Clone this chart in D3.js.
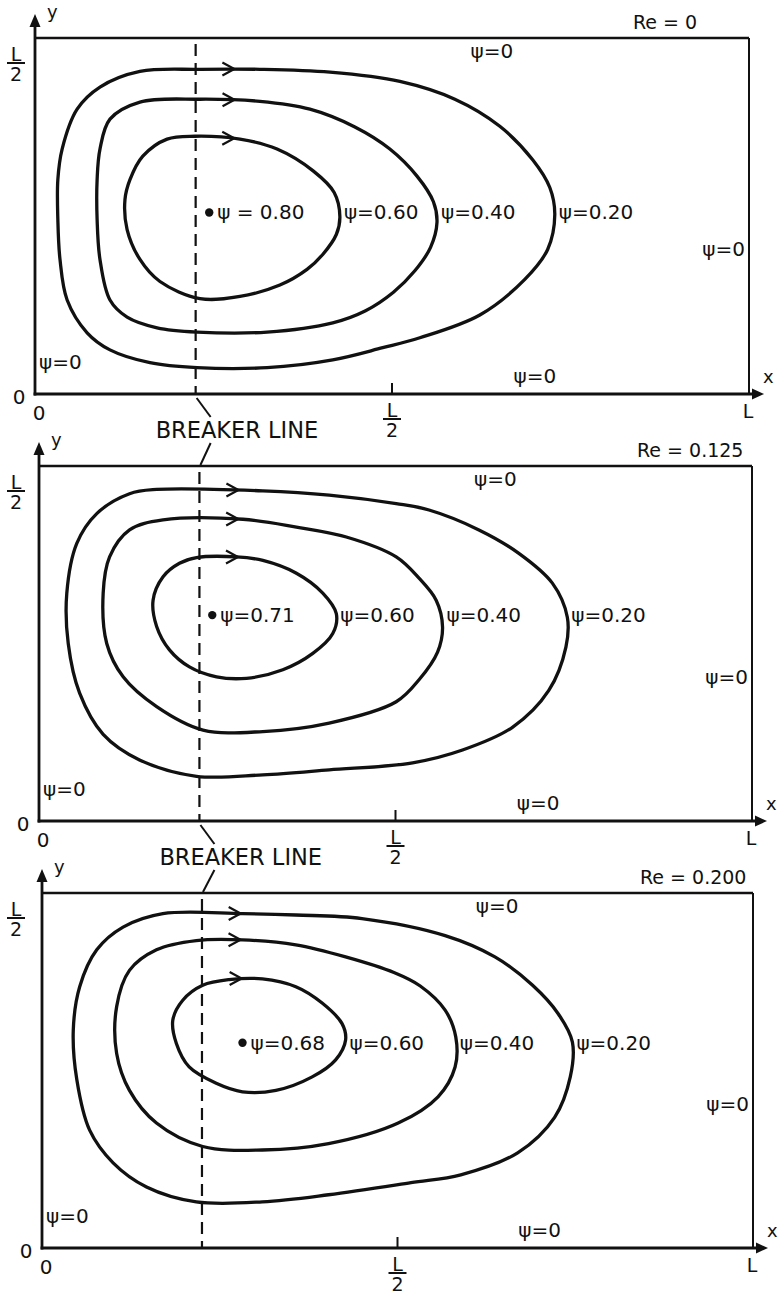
<!DOCTYPE html>
<html>
<head>
<meta charset="utf-8">
<title>Streamlines for three Reynolds numbers</title>
<script src="https://d3js.org/d3.v7.min.js"></script>
<style>
body {margin: 0; background: #fff;}
svg text {font-family: "DejaVu Sans", sans-serif; fill: #111;}
</style>
</head>
<body>
<svg id="chart" width="781" height="1299"></svg>
<script>
// every point is [x, y] in hundredths of L : x from 0 to 100, y from 0 to 50 (= L/2)
var reLabels = ["Re = 0", "Re = 0.125", "Re = 0.200"];
var contourLabels = ["\u03c8=0.20", "\u03c8=0.40", "\u03c8=0.60"];
var centerLabels = ["\u03c8 = 0.80", "\u03c8=0.71", "\u03c8=0.68"];
var boundaryLabel = "\u03c8=0";
var breakerX = 22.5;
var arrowX = 28;

var re0Center = [24.4, 25.5];
var re0Psi20 = [[3.2,24.5],[3.2,30.1],[3.8,34.4],[5.9,40.0],[9.1,43.1],[14.7,45.3],[23.1,45.6],[31.5,45.6],[41.3,45.2],[51.1,43.9],[58.8,41.4],[65.1,37.6],[69.7,32.9],[72.1,29.0],[72.8,25.2],[71.8,20.3],[68.6,16.1],[62.3,11.1],[53.9,7.9],[48.7,6.5],[41.7,4.8],[32.5,3.7],[22.7,3.7],[16.1,4.4],[10.5,6.2],[7.3,8.6],[4.5,13.2],[3.5,18.9]];
var re0Psi40 = [[8.7,24.5],[8.7,30.1],[9.1,34.4],[10.5,38.6],[14.7,41.0],[23.1,41.4],[31.5,41.1],[38.5,40.0],[44.8,37.5],[49.7,34.4],[53.5,30.6],[55.8,27.0],[56.3,24.1],[55.4,20.6],[53.2,17.3],[50.2,14.3],[46.3,11.7],[41.7,10.0],[32.5,8.7],[22.7,8.7],[17.1,9.3],[12.9,10.8],[10.5,13.2],[9.1,18.9]];
var re0Psi60 = [[12.6,27.3],[12.9,23.1],[14.7,18.9],[17.5,15.8],[23.1,13.4],[28.7,13.7],[34.3,15.3],[38.1,17.5],[40.3,19.6],[42.2,22.4],[42.7,24.9],[41.9,28.3],[39.0,31.3],[33.9,34.4],[28.7,35.8],[22.4,36.2],[18.5,35.8],[15.1,33.4],[13.3,30.1]];

var re125Center = [24.3, 29.0];
var re125Psi20 = [[3.9,32.1],[4.1,25.0],[5.7,18.0],[9.0,12.2],[14.1,8.6],[22.1,6.3],[31.4,6.5],[40.7,7.2],[52.4,8.2],[59.4,10.0],[66.4,13.2],[71.5,18.4],[73.9,24.5],[74.1,28.7],[72.0,33.5],[67.3,37.7],[61.7,41.0],[54.7,43.8],[50.1,44.7],[40.7,45.9],[31.4,46.5],[16.5,46.7],[12.7,46.1],[8.1,43.3],[5.3,39.1]];
var re125Psi40 = [[9.0,32.1],[9.9,37.2],[12.7,41.0],[17.4,42.4],[28.6,42.5],[36.1,41.4],[43.1,40.0],[50.1,37.2],[53.3,34.2],[55.7,31.1],[56.6,27.3],[55.9,23.8],[53.3,19.9],[50.1,16.8],[40.7,13.8],[31.4,12.6],[23.0,12.8],[16.5,16.1],[11.8,20.3],[9.5,25.0]];
var re125Psi60 = [[22.1,37.1],[27.7,37.2],[31.4,36.7],[36.1,34.9],[39.8,32.1],[41.7,29.2],[41.2,26.4],[38.4,23.6],[34.2,21.3],[29.1,20.1],[24.9,20.3],[21.1,21.7],[18.3,24.1],[16.5,27.4],[16.0,31.1],[17.4,34.4],[19.7,36.3]];

var re200Center = [28.2, 28.9];
var re200Psi20 = [[4.4,30.7],[4.9,23.7],[6.7,16.6],[10.0,12.0],[14.7,8.6],[21.7,6.5],[31.0,6.5],[40.3,7.5],[51.9,9.2],[58.9,10.3],[66.9,13.4],[72.1,18.4],[74.3,24.1],[74.6,29.0],[72.6,33.0],[69.0,37.0],[63.7,41.0],[56.7,44.0],[45.0,46.4],[35.7,46.9],[28.2,47.1],[17.0,47.1],[11.4,45.2],[7.7,42.0],[5.3,36.8]];
var re200Psi40 = [[10.5,34.0],[10.5,27.4],[12.3,22.2],[16.1,17.6],[22.6,14.3],[31.0,13.8],[40.3,14.7],[50.1,17.6],[55.7,21.3],[58.1,25.5],[58.2,29.7],[56.7,33.5],[53.2,36.9],[49.5,38.8],[42.7,41.0],[35.7,42.7],[28.2,43.4],[21.7,43.3],[16.1,42.0],[12.3,39.1]];
var re200Psi60 = [[26.3,37.8],[31.0,37.9],[35.7,36.8],[39.4,34.5],[42.2,31.6],[42.7,29.3],[41.3,26.5],[38.0,24.1],[32.9,22.2],[28.2,22.0],[24.5,23.2],[20.7,25.5],[18.9,28.8],[18.4,32.1],[19.8,34.9],[22.6,37.0]];

var panelContours = [[re0Psi20, re0Psi40, re0Psi60], [re125Psi20, re125Psi40, re125Psi60], [re200Psi20, re200Psi40, re200Psi60]];
var panelCenters = [re0Center, re125Center, re200Center];

// page layout of the three frames
var layout = [{x0: 35, top: 38, bottom: 394, w: 714}, {x0: 39, top: 466, bottom: 821, w: 713}, {x0: 42, top: 893, bottom: 1248, w: 711}];

var svg = d3.select("#chart");
var ink = "#111";
var line = d3.line().curve(d3.curveCatmullRomClosed.alpha(0.5));

function topPointAt(node, px) {
    var len = node.getTotalLength(), best = null;
    for (var s = 0; s < len; s += 0.5) {
        var p = node.getPointAtLength(s);
        if (Math.abs(p.x - px) < 0.7 && (best == null || p.y < best.y)) best = p;
    }
    return best;
}

function drawPanel(i) {
    var lay = layout[i];
    var g = svg.append("g");
    var x = d3.scaleLinear([0, 100], [lay.x0, lay.x0 + lay.w]);
    var y = d3.scaleLinear([0, 50], [lay.bottom, lay.top]);
    line.x(d => x(d[0])).y(d => y(d[1]));

    // frame: top and right sides
    g.append("line").attr("x1", x(0)).attr("x2", x(100)).attr("y1", y(50)).attr("y2", y(50))
        .attr("stroke", ink).attr("stroke-width", 2.6);
    g.append("line").attr("x1", x(100)).attr("x2", x(100)).attr("y1", y(50)).attr("y2", y(0))
        .attr("stroke", ink).attr("stroke-width", 2);

    // axes with arrows
    g.append("line").attr("x1", x(0)).attr("x2", x(0)).attr("y1", y(0) + 1.5).attr("y2", y(50) - 14)
        .attr("stroke", ink).attr("stroke-width", 2.8);
    g.append("path").attr("d", d3.line()([[x(0), y(50) - 24], [x(0) - 5.5, y(50) - 11], [x(0) + 5.5, y(50) - 11]]) + "Z")
        .attr("fill", ink);
    g.append("line").attr("x1", x(0) - 1.4).attr("x2", x(100) + 6).attr("y1", y(0)).attr("y2", y(0))
        .attr("stroke", ink).attr("stroke-width", 3);
    g.append("path").attr("d", d3.line()([[x(100) + 15, y(0)], [x(100) + 3, y(0) - 5.5], [x(100) + 3, y(0) + 5.5]]) + "Z")
        .attr("fill", ink);
    g.append("line").attr("x1", x(50)).attr("x2", x(50)).attr("y1", y(0)).attr("y2", y(0) - 11)
        .attr("stroke", ink).attr("stroke-width", 2);

    // axis labels
    g.append("text").attr("x", x(0) + 12).attr("y", y(50) - 20).attr("font-size", 18).text("y");
    g.append("text").attr("x", x(100) + 14).attr("y", y(0) - 11).attr("font-size", 18).text("x");
    g.append("text").attr("x", x(0) - 16).attr("y", y(0) + 3).attr("dy", "0.35em").attr("text-anchor", "middle").attr("font-size", 20).text("0");
    g.append("text").attr("x", x(0) + 4).attr("y", y(0) + 19).attr("dy", "0.35em").attr("text-anchor", "middle").attr("font-size", 20).text("0");
    g.append("text").attr("x", x(100) - 1).attr("y", y(0) + 17).attr("dy", "0.35em").attr("text-anchor", "middle").attr("font-size", 19).text("L");
    fraction(g, x(50), y(0) + 16);
    fraction(g, 16, y(50) + 16);

    // Reynolds number
    g.append("text").attr("x", x(0) + 598).attr("y", y(50) - 9).attr("font-size", 19).text(reLabels[i]);

    // breaker line
    g.append("line").attr("x1", x(breakerX)).attr("x2", x(breakerX)).attr("y1", y(50) + 6).attr("y2", y(0))
        .attr("stroke", ink).attr("stroke-width", 2.2).attr("stroke-dasharray", "12,7");

    // streamlines
    panelContours[i].forEach(function (pts, k) {
        var path = g.append("path").attr("d", line(pts)).attr("fill", "none")
            .attr("stroke", ink).attr("stroke-width", 3.3).attr("stroke-linejoin", "round");
        var p = topPointAt(path.node(), x(arrowX));
        if (p) {
            g.append("path").attr("d", d3.line()([[p.x - 12, p.y - 6.5], [p.x, p.y], [p.x - 12, p.y + 6.5]]))
                .attr("fill", "none").attr("stroke", ink).attr("stroke-width", 2.2);
        }
        var xmax = d3.max(pts, d => d[0]);
        g.append("text").attr("x", x(xmax) + 4).attr("y", y(panelCenters[i][1])).attr("dy", "0.35em")
            .attr("font-size", 20).text(contourLabels[k]);
    });

    // vortex centre
    var c = panelCenters[i];
    g.append("circle").attr("cx", x(c[0])).attr("cy", y(c[1])).attr("r", 4.2).attr("fill", ink);
    g.append("text").attr("x", x(c[0]) + 8).attr("y", y(c[1])).attr("dy", "0.35em")
        .attr("font-size", 20).text(centerLabels[i]);

    // psi = 0 on the walls
    g.append("text").attr("x", x(64)).attr("y", y(50) + 13).attr("dy", "0.35em").attr("text-anchor", "middle")
        .attr("font-size", 20).text(boundaryLabel);
    g.append("text").attr("x", x(100) - 4).attr("y", y(20.3)).attr("dy", "0.35em").attr("text-anchor", "end")
        .attr("font-size", 20).text(boundaryLabel);
    g.append("text").attr("x", x(70)).attr("y", y(0) - 18).attr("dy", "0.35em").attr("text-anchor", "middle")
        .attr("font-size", 20).text(boundaryLabel);
    g.append("text").attr("x", x(0) + 4).attr("y", y(0) - 32).attr("dy", "0.35em")
        .attr("font-size", 20).text(boundaryLabel);

    return {x: x, y: y};
}

function fraction(g, cx, cy) {
    g.append("text").attr("x", cx).attr("y", cy).attr("dy", "0.35em").attr("text-anchor", "middle").attr("font-size", 19).text("L");
    g.append("line").attr("x1", cx - 9).attr("x2", cx + 9).attr("y1", cy + 9).attr("y2", cy + 9)
        .attr("stroke", ink).attr("stroke-width", 2);
    g.append("text").attr("x", cx).attr("y", cy + 20).attr("dy", "0.35em").attr("text-anchor", "middle").attr("font-size", 19).text("2");
}

var scales = layout.map((d, i) => drawPanel(i));

// breaker line captions between frames
for (var i = 0; i < 2; i++) {
    var a = scales[i], b = scales[i + 1];
    var bx = a.x(breakerX), by = a.y(0);
    var nx = b.x(breakerX), ny = b.y(50);
    var mid = (by + ny) / 2;
    svg.append("text").attr("x", bx - 40).attr("y", mid).attr("dy", "0.36em").attr("font-size", 22.5).text("BREAKER LINE");
    svg.append("line").attr("x1", bx + 1).attr("y1", by + 4).attr("x2", bx + 15).attr("y2", mid - 13)
        .attr("stroke", ink).attr("stroke-width", 2);
    svg.append("line").attr("x1", bx + 15).attr("y1", mid + 13).attr("x2", nx + 1).attr("y2", ny - 1)
        .attr("stroke", ink).attr("stroke-width", 2);
}
</script>
</body>
</html>
